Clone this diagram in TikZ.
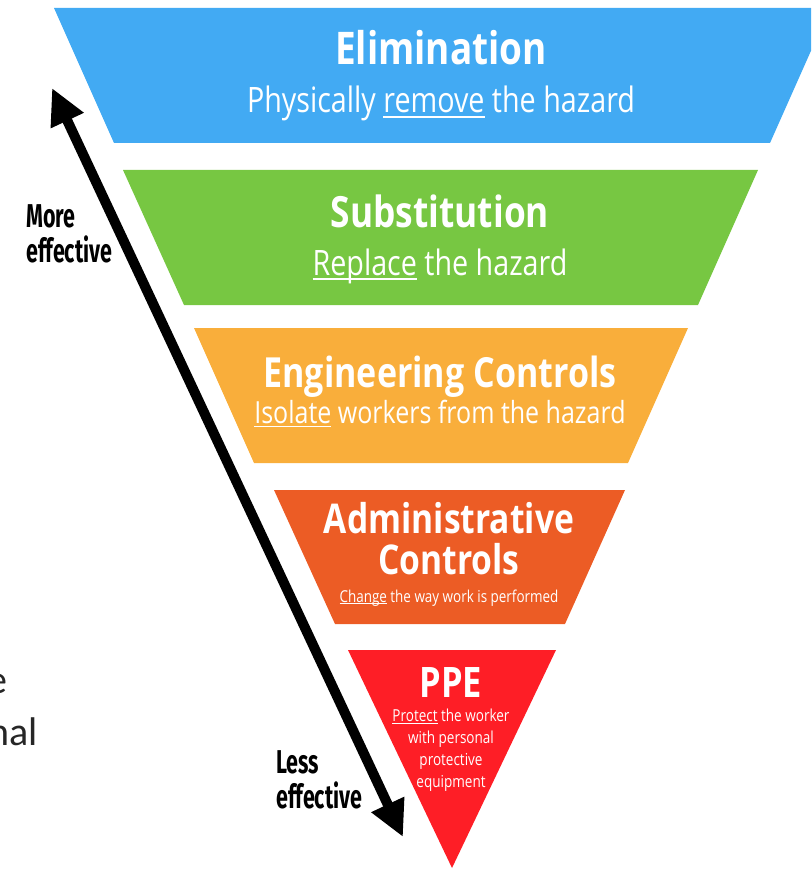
\documentclass[tikz,border=0pt]{standalone}
\usepackage{fontspec}
\usepackage{tikz}
\usetikzlibrary{arrows.meta,positioning}
\newfontfamily\hocfont{Open Sans}[FakeStretch=0.82]
\newfontfamily\effont{Fira Sans}[FakeStretch=0.65]
\newfontfamily\slidefont{Carlito}
\definecolor{elimblue}{RGB}{66,170,243}
\definecolor{substgreen}{RGB}{119,199,66}
\definecolor{enggold}{RGB}{249,174,59}
\definecolor{adminorange}{RGB}{236,92,37}
\definecolor{ppered}{RGB}{254,30,38}
\newcommand{\ulword}[1]{\leavevmode\setbox0=\hbox{#1}\rlap{\rule[-0.14em]{\wd0}{0.05em}}\box0\relax}
\tikzset{
    %Define style for the band titles
    bandtitle/.style={
           anchor=base,
           inner sep=0pt,
           text=white,
           align=center,
           font=\hocfont\bfseries\fontsize{#1}{#1}\selectfont},
    %Define style for the band lines below the titles
    bandtext/.style={
           anchor=base,
           inner sep=0pt,
           text=white,
           align=center,
           font=\hocfont\fontsize{#1}{#1}\selectfont},
    bandnote/.style={
           anchor=base,
           inner sep=0pt,
           text=white,
           align=center,
           font=\hocfont\fontsize{16.5}{21.7}\selectfont},
    effect/.style={
           anchor=base west,
           inner sep=0pt,
           align=left,
           font=\effont\bfseries\fontsize{33}{34.5}\selectfont},
    slide/.style={
           anchor=base east,
           inner sep=0pt,
           text=black!85,
           font=\slidefont\fontsize{40}{40}\selectfont},
    % Define arrow style
    pil/.style={
           <->,
           >={Triangle[length=36pt,width=34pt]},
           line width=10pt}
}
\begin{document}
\begin{tikzpicture}[x=1pt,y=-1pt]
\useasboundingbox (0,0) rectangle (811,869);
\clip (0,0) rectangle (811,869);
% funnel bands
\fill[elimblue] (54,8) -- (830,8) -- (770,143) -- (114,143) -- cycle;
\fill[substgreen] (123,170) -- (758,170) -- (698,305) -- (184,305) -- cycle;
\fill[enggold] (194,328) -- (688,328) -- (628,463) -- (254,463) -- cycle;
\fill[adminorange] (274,490) -- (625,490) -- (565,624) -- (335,624) -- cycle;
\fill[ppered] (348,650) -- (556,650) -- (452,868) -- cycle;
% band texts (base of a multi-line node is its last line)
\node[bandtitle=45] (1) at (441,65) {Elimination};
\node[bandtext=35] (1s) at (441,113) {Physically \ulword{remove} the hazard};
\node[bandtitle=43] (2) at (440,227) {Substitution};
\node[bandtext=35] (2s) at (440,275) {\ulword{Replace} the hazard};
\node[bandtitle=41.5] (3) at (440,387) {Engineering Controls};
\node[bandtext=30.5] (3s) at (440,423) {\ulword{Isolate} workers from the hazard};
\node[bandtitle=41] (4) at (449,574) {Administrative\\Controls};
\node[bandtext=16.4] (4s) at (449,602) {\ulword{Change} the way work is performed};
\node[bandtitle=42] (5) at (451,697) {PPE};
\node[bandnote] (5s) at (451,787) {\ulword{Protect} the worker\\with personal\\protective\\equipment};
% effectiveness arrow
\coordinate (more) at (52,88);
\coordinate (less) at (403,837);
\draw[pil] (more) -- (less);
\node[effect] (m) at (26,262) {More\\effective};
\node[effect] (l) at (276,808) {Less\\effective};
% cut-off slide text
\node[slide] (e) at (8,693) {e};
\node[slide] (nal) at (38,745) {nal};
\end{tikzpicture}
\end{document}
